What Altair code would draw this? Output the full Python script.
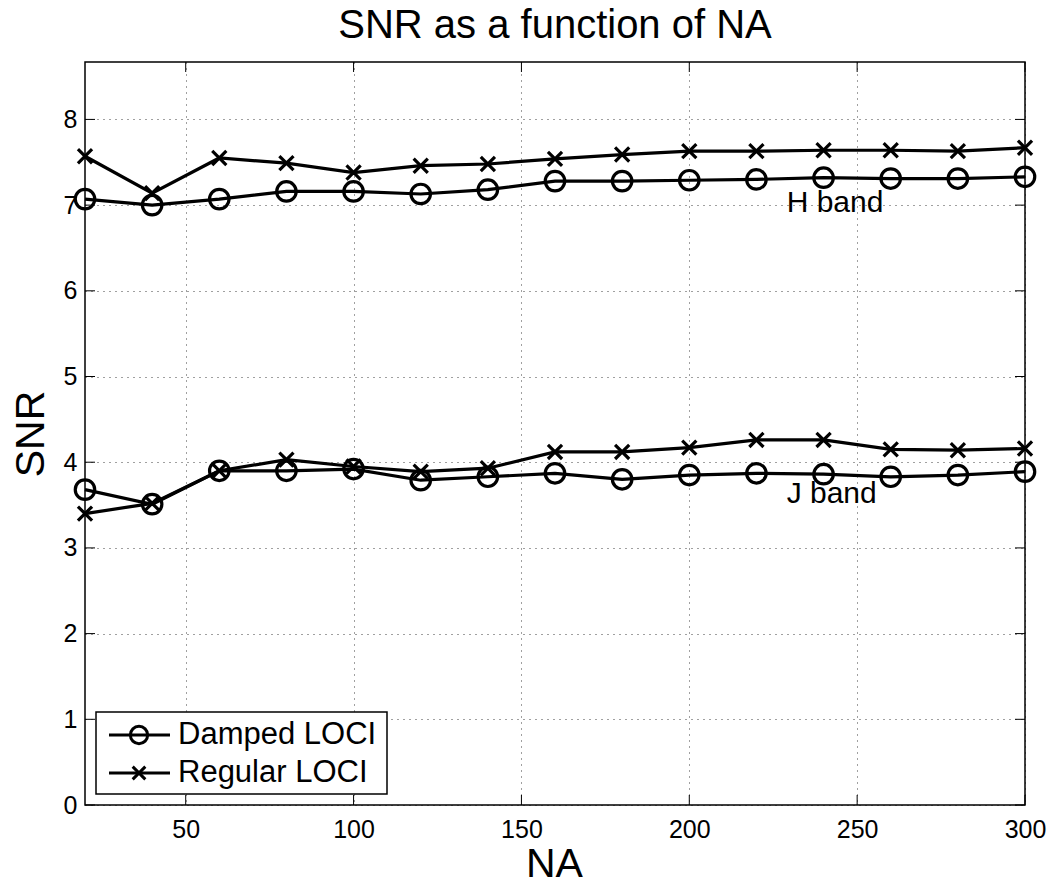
import altair as alt
import pandas as pd

NA = [20, 40, 60, 80, 100, 120, 140, 160, 180, 200, 220, 240, 260, 280, 300]
h_damped = [7.07, 7.00, 7.07, 7.16, 7.16, 7.13, 7.18, 7.28, 7.28, 7.29, 7.30, 7.32, 7.31, 7.31, 7.33]
h_regular = [7.57, 7.14, 7.55, 7.49, 7.38, 7.46, 7.48, 7.54, 7.59, 7.63, 7.63, 7.64, 7.64, 7.63, 7.67]
j_damped = [3.68, 3.51, 3.90, 3.90, 3.92, 3.79, 3.83, 3.87, 3.80, 3.85, 3.87, 3.86, 3.83, 3.85, 3.89]
j_regular = [3.40, 3.52, 3.90, 4.03, 3.95, 3.89, 3.93, 4.12, 4.12, 4.17, 4.26, 4.26, 4.15, 4.14, 4.16]

chart_title = ["SNR as a function of NA"]
legend_names = ["Damped LOCI", "Regular LOCI"]
band_labels = ["H band", "J band"]
band_x = [229, 229]
band_y = [7.03, 3.63]
x_ticks = [50, 100, 150, 200, 250, 300]
y_ticks = [0, 1, 2, 3, 4, 5, 6, 7, 8]

FONT = "Liberation Sans"
W, H = 940, 743
CROSS = "M-1,-1L1,1M-1,1L1,-1"

rows = []
for name, band, kind, vals in [
    ("H damped", "H", "o", h_damped),
    ("H regular", "H", "x", h_regular),
    ("J damped", "J", "o", j_damped),
    ("J regular", "J", "x", j_regular),
]:
    for a, v in zip(NA, vals):
        rows.append({"NA": a, "SNR": v, "series": name, "kind": kind})
df = pd.DataFrame(rows)

xscale = alt.Scale(domain=[20, 300], nice=False, zero=False)
yscale = alt.Scale(domain=[0, 8.67], nice=False, zero=False)

xaxis = alt.Axis(values=x_ticks, grid=True, gridDash=[1, 5], gridColor="#000", gridOpacity=0.75,
                 gridWidth=1, ticks=False, tickSize=0, domain=False, labelFontSize=25,
                 labelPadding=12, labelColor="#000", title="NA", titleFontSize=41,
                 titleFontWeight="normal", titleColor="#000", titleBaseline="alphabetic",
                 titleX=W / 2 - 1, titleY=71, labelFlush=False)
yaxis = alt.Axis(values=y_ticks, grid=True, gridDash=[1, 5], gridColor="#000", gridOpacity=0.75,
                 gridWidth=1, ticks=False, tickSize=0, domain=False, labelFontSize=25,
                 labelPadding=8, labelColor="#000", title="SNR", titleFontSize=41,
                 titleFontWeight="normal", titleColor="#000", titleBaseline="alphabetic",
                 titleX=-42, titleY=H / 2, labelFlush=False)

X = alt.X("NA:Q", scale=xscale, axis=xaxis)
Y = alt.Y("SNR:Q", scale=yscale, axis=yaxis)

base = alt.Chart(df)
lines = base.mark_line(color="black", strokeWidth=3.2).encode(x=X, y=Y, detail="series:N")
circles = base.transform_filter(alt.datum.kind == "o").mark_point(
    shape="circle", filled=False, size=380, strokeWidth=3.2, color="black", opacity=1
).encode(x=X, y=Y)
crosses = base.transform_filter(alt.datum.kind == "x").mark_point(
    shape=CROSS, filled=False, size=200, strokeWidth=3.2, color="black", opacity=1
).encode(x=X, y=Y)

# inner ticks (Matlab style)
xt = pd.DataFrame({"NA": x_ticks})
yt = pd.DataFrame({"SNR": y_ticks})
xt_bot = alt.Chart(xt).mark_rule(color="black", strokeWidth=1).encode(
    x=X, y=alt.value(H), y2=alt.value(H - 10))
xt_top = alt.Chart(xt).mark_rule(color="black", strokeWidth=1).encode(
    x=X, y=alt.value(0), y2=alt.value(10))
yt_left = alt.Chart(yt).mark_rule(color="black", strokeWidth=1).encode(
    y=Y, x=alt.value(0), x2=alt.value(10))
yt_right = alt.Chart(yt).mark_rule(color="black", strokeWidth=1).encode(
    y=Y, x=alt.value(W), x2=alt.value(W - 10))

# band annotations
ann = pd.DataFrame({"NA": band_x, "SNR": band_y, "label": band_labels})
ann_text = alt.Chart(ann).mark_text(align="left", baseline="middle", fontSize=30,
                                    color="black").encode(x=X, y=Y, text="label:N")

# title as text mark above plot area
tdf = pd.DataFrame({"label": chart_title})
title_text = alt.Chart(tdf).mark_text(align="center", baseline="alphabetic", fontSize=40,
                                      color="black").encode(
    x=alt.value(W / 2), y=alt.value(-24), text="label:N")

# manual legend
one = pd.DataFrame({"d": [0]})
leg_box = alt.Chart(one).mark_rect(fill="white", stroke="black", strokeWidth=1.5).encode(
    x=alt.value(11), x2=alt.value(302), y=alt.value(650), y2=alt.value(732))
leg_layers = [leg_box]
leg_ys = [673, 711]
for name, ly, shp, sz in zip(legend_names, leg_ys, ["circle", CROSS], [300, 160]):
    d = pd.DataFrame({"label": [name]})
    leg_layers.append(alt.Chart(d).mark_rule(color="black", strokeWidth=3).encode(
        x=alt.value(24), x2=alt.value(85), y=alt.value(ly)))
    leg_layers.append(alt.Chart(d).mark_point(shape=shp, filled=False, size=sz, strokeWidth=3,
                                              color="black", opacity=1).encode(
        x=alt.value(54), y=alt.value(ly)))
    leg_layers.append(alt.Chart(d).mark_text(align="left", baseline="middle", fontSize=31,
                                             color="black").encode(
        x=alt.value(93), y=alt.value(ly), text="label:N"))

chart = alt.layer(
    lines, circles, crosses, xt_bot, xt_top, yt_left, yt_right, ann_text, title_text, *leg_layers
).properties(
    width=W, height=H,
    autosize=alt.AutoSizeParams(type="none"),
    padding={"left": 77, "top": 54, "right": 22, "bottom": 75},
).configure(font=FONT, background="white").configure_view(
    stroke="black", strokeWidth=1.5
)

chart.save("out.html", embed_options={"renderer": "svg", "actions": False})
